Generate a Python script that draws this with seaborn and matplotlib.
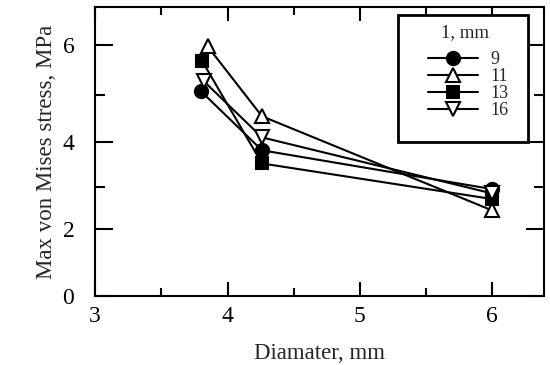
import numpy as np
import pandas as pd
import matplotlib
matplotlib.use("Agg")
import matplotlib.pyplot as plt
import seaborn as sns
from matplotlib.ticker import FixedLocator
from matplotlib.lines import Line2D
from matplotlib.patches import Rectangle

l_labels = ["9", "11", "13", "16"]
stress_9 = [5.07, 3.82, 2.95]
stress_11 = [5.98, 4.55, 2.45]
stress_13 = [5.68, 3.53, 2.72]
stress_16 = [5.28, 4.10, 2.85]
diam_9 = [3.80, 4.26, 6.0]
diam_11 = [3.85, 4.26, 6.0]
diam_13 = [3.81, 4.26, 6.0]
diam_16 = [3.82, 4.26, 6.0]

sns.set_style("ticks")
plt.rcParams["font.family"] = ["Liberation Serif", "DejaVu Serif"]

fig = plt.figure(figsize=(5.5, 3.65), dpi=100)
ax = fig.add_axes([0.173, 0.189, 0.816, 0.792])

styles = [
    (diam_9, stress_9, "o", "black"),
    (diam_11, stress_11, "^", "white"),
    (diam_13, stress_13, "s", "black"),
    (diam_16, stress_16, "v", "white"),
]
handles = []
for (xs, ys, m, fc), lab in zip(styles, l_labels):
    df = pd.DataFrame({"d": xs, "s": ys})
    ms = 8 if m == "s" else 9.5
    sns.lineplot(data=df, x="d", y="s", ax=ax, color="black", lw=1.5,
                 marker=m, markersize=ms,
                 markerfacecolor=fc, markeredgecolor="black",
                 markeredgewidth=1.5, sort=False)
    handles.append(Line2D([0], [0], color="black", lw=1.5, marker=m,
                          markersize=ms, markerfacecolor=fc,
                          markeredgecolor="black", markeredgewidth=1.5,
                          label=lab))

p = 1.2
ax.set_yscale("function", functions=(lambda y: np.sign(y) * np.abs(y) ** p,
                                     lambda y: np.sign(y) * np.abs(y) ** (1 / p)))
ax.set_ylim(0, 6.76)
ax.set_xlim(3, 6.39)
ax.yaxis.set_major_locator(FixedLocator([0, 2, 4, 6]))
ax.yaxis.set_minor_locator(FixedLocator([3, 5]))
ax.xaxis.set_major_locator(FixedLocator([3, 4, 5, 6]))
ax.xaxis.set_minor_locator(FixedLocator([3.5, 4.5, 5.5]))
ax.set_yticklabels(["0", "2", "4", "6"])
ax.set_xticklabels(["3", "4", "5", "6"])

ax.tick_params(axis="both", which="both", direction="in", top=True, right=True,
               width=1.5, colors="black", labelsize=17)
ax.tick_params(axis="y", which="major", length=13, pad=15)
ax.tick_params(axis="y", which="minor", length=7)
ax.tick_params(axis="x", which="major", length=10, pad=7)
ax.tick_params(axis="x", which="minor", length=6)
for sp in ax.spines.values():
    sp.set_linewidth(1.5)
    sp.set_color("black")

ax.set_xlabel("Diamater, mm", fontsize=16.5, labelpad=12)
ax.set_ylabel("Max von Mises stress, MPa", fontsize=16.5, labelpad=4)

# legend box, title and entries
ax.add_patch(Rectangle((0.675, 0.533), 0.289, 0.439, transform=ax.transAxes,
                       facecolor="white", edgecolor="black", lw=2, zorder=5))
ax.text(0.824, 0.910, "1, mm", transform=ax.transAxes, ha="center",
        va="center", fontsize=13.5, zorder=6)
leg = ax.legend(handles=handles, loc="upper left",
                bbox_to_anchor=(0.7416, 0.846), fontsize=13,
                frameon=False, handlelength=2.77, handletextpad=0.66,
                labelspacing=0.0, borderpad=0, borderaxespad=0)
leg.set_zorder(7)

fig.savefig("out.png", dpi=100)
